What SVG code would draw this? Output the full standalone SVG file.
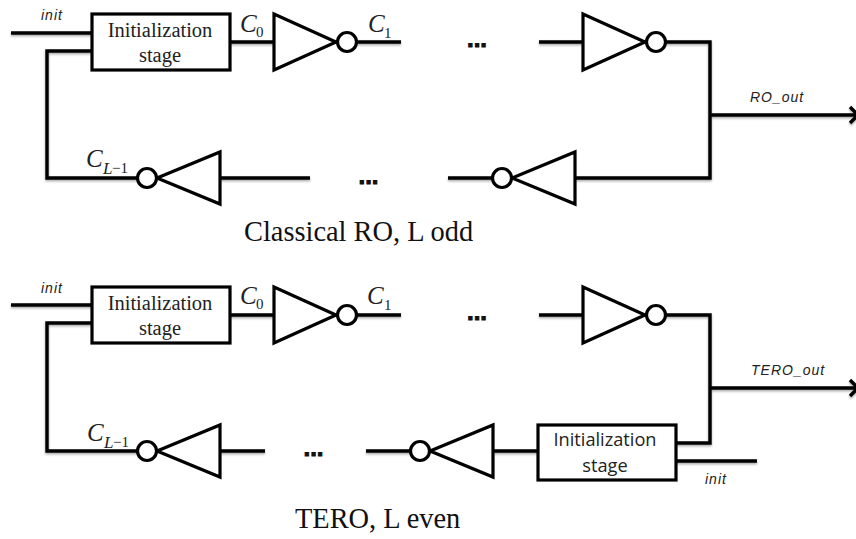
<svg xmlns="http://www.w3.org/2000/svg" width="856" height="539" viewBox="0 0 856 539">
<style>
.w{fill:none;stroke:#000;stroke-width:3.4;stroke-linejoin:miter}
.g{fill:#fff;stroke:#000;stroke-width:3.2;stroke-linejoin:miter}
.c{font-family:"Liberation Serif",serif;font-style:italic;font-size:25px;fill:#222}
.b{font-family:"Liberation Serif",serif;font-size:15px;fill:#222}
.bi{font-family:"Liberation Serif",serif;font-style:italic;font-size:17px;fill:#222}
.i{font-family:"Liberation Sans",sans-serif;font-style:italic;font-size:14px;letter-spacing:1px;fill:#222}
.t{font-family:"Liberation Serif",serif;font-size:20.5px;fill:#222;text-anchor:middle}
.u{font-family:"Open Sans",sans-serif;font-size:18.2px;fill:#222;text-anchor:middle}
.d{font-family:"Liberation Sans",sans-serif;font-weight:bold;font-size:24px;fill:#111;stroke:#111;stroke-width:1;text-anchor:middle}
.m{font-family:"Liberation Serif",serif;font-size:28.4px;fill:#111}
</style>
<defs>
<filter id="sh" x="-5%" y="-5%" width="110%" height="110%"><feDropShadow dx="0" dy="1.5" stdDeviation="1.2" flood-color="#000" flood-opacity="0.35"/></filter>
<g id="invR"><path class="g" d="M0 -28V28L62 0Z"/><circle class="g" cx="73" cy="0" r="9.5"/></g>
<g id="invL"><path class="g" d="M73 -26V26L10 0Z"/><circle class="g" cx="0" cy="0" r="9.5"/></g>
</defs>
<g id="connectors" filter="url(#sh)">
<path class="w" d="M11 33H92M92 51H47V178H138M230 42H274M356 42H401M539 42H583M665 42H710V178H575M220 178H310M448 178H493M710 115H856M850 107L858 115L850 123"/>
<path class="w" d="M11 305H92M92 323H47V451H138M230 315H274M356 315H401M539 315H583M665 315H710V443H676M676 461H757M220 451H265M366 451H411M493 451H538M710 388H856M850 380L858 388L850 396"/>
</g>
<g id="ro-init"><rect class="g" x="92" y="14" width="138" height="56"/><text class="t" x="160" y="37">Initialization</text><text class="t" x="160" y="62">stage</text></g>
<g id="ro-inv0"><use href="#invR" x="274" y="42"/></g>
<g id="ro-inv1"><use href="#invR" x="583" y="42"/></g>
<g id="ro-inv2"><use href="#invL" x="147" y="178"/></g>
<g id="ro-inv3"><use href="#invL" x="502" y="178"/></g>
<g id="tero-init0"><rect class="g" x="92" y="287" width="138" height="56"/><text class="t" x="160" y="310">Initialization</text><text class="t" x="160" y="335">stage</text></g>
<g id="tero-init1"><rect class="g" x="538" y="425" width="138" height="55"/><text class="u" x="605" y="446">Initialization</text><text class="u" x="605" y="472">stage</text></g>
<g id="tero-inv0"><use href="#invR" x="274" y="315"/></g>
<g id="tero-inv1"><use href="#invR" x="583" y="315"/></g>
<g id="tero-inv2"><use href="#invL" x="147" y="451"/></g>
<g id="tero-inv3"><use href="#invL" x="420" y="451"/></g>
<g id="labels">
<text class="i" x="41" y="20">init</text>
<text class="i" x="41" y="293">init</text>
<text class="i" x="705" y="484">init</text>
<text class="i" x="750" y="102">RO_out</text>
<text class="i" x="751" y="375">TERO_out</text>
<text class="c" x="240" y="32">C</text><text class="b" x="256" y="37">0</text>
<text class="c" x="368" y="32">C</text><text class="b" x="384" y="38">1</text>
<text class="c" x="240" y="304">C</text><text class="b" x="256" y="309">0</text>
<text class="c" x="367" y="304">C</text><text class="b" x="384" y="310">1</text>
<text class="c" x="86" y="167">C</text><text class="bi" x="103" y="174">L</text><text class="b" x="112" y="173">−1</text>
<text class="c" x="87" y="441">C</text><text class="bi" x="104" y="448">L</text><text class="b" x="113" y="447">−1</text>
<text class="d" x="477" y="47">...</text>
<text class="d" x="368.5" y="184">...</text>
<text class="d" x="477" y="320">...</text>
<text class="d" x="313.5" y="456">...</text>
<text class="m" x="244" y="241">Classical RO, L odd</text>
<text class="m" x="295" y="528">TERO, L even</text>
</g>
</svg>
